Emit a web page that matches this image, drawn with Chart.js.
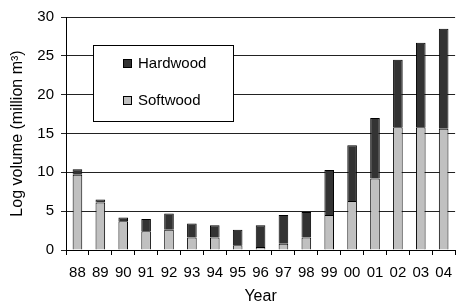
<!DOCTYPE html>
<html>
<head>
  <title>Log volume</title>
  <script src="https://cdn.jsdelivr.net/npm/chart.js"></script>
  <style>
    html, body { margin: 0; padding: 0; background: #fff; }
    #chartBox { width: 461px; height: 304px; position: relative; }
  </style>
</head>
<body>
<div id="chartBox"><canvas id="graphCanvas"></canvas></div>

<script>
// years (2-digit labels on the x axis)
let years = ['88', '89', '90', '91', '92', '93', '94', '95', '96', '97', '98', '99', '00', '01', '02', '03', '04'];

// log volume in million m3
let softwood = [9.7, 6.1, 3.7, 2.4, 2.6, 1.6, 1.6, 0.6, 0.4, 0.8, 1.6, 4.5, 6.3, 9.2, 15.8, 15.8, 15.6];
let hardwood = [0.7, 0.4, 0.5, 1.6, 2.1, 1.8, 1.6, 2.0, 2.8, 3.7, 3.3, 5.8, 7.2, 7.8, 8.7, 10.9, 12.9];

let yTicks = [0, 5, 10, 15, 20, 25, 30];

let font = 'Liberation Sans, Arial, sans-serif';

// legend box sitting inside the plot, Hardwood above Softwood
let boxLegend = {
  id: 'boxLegend',
  afterDraw(chart) {
    let ctx = chart.ctx;
    ctx.save();
    ctx.fillStyle = '#fff';
    ctx.fillRect(94, 45, 139, 76);
    ctx.strokeStyle = '#000';
    ctx.lineWidth = 1;
    ctx.strokeRect(93.5, 45.5, 140, 76);

    let items = [chart.data.datasets[1], chart.data.datasets[0]];
    let rows = [63, 100];
    ctx.font = '15px ' + font;
    ctx.textBaseline = 'middle';
    items.forEach(function(ds, i) {
      ctx.fillStyle = ds.backgroundColor;
      ctx.fillRect(123, rows[i] - 4, 9, 9);
      ctx.strokeStyle = '#000';
      ctx.strokeRect(123.5, rows[i] - 3.5, 8, 8);
      ctx.fillStyle = '#000';
      ctx.fillText(ds.label, 138, rows[i] + 1);
    });
    ctx.restore();
  }
};

let options = {
  type: 'bar',
  data: {
    labels: years,
    datasets: [
      {
        label: 'Softwood',
        data: softwood,
        backgroundColor: '#c0c0c0',
        borderColor: '#000',
        borderWidth: 1,
        categoryPercentage: 1,
        barPercentage: 0.42
      },
      {
        label: 'Hardwood',
        data: hardwood,
        backgroundColor: '#333333',
        borderColor: '#000',
        borderWidth: 1,
        categoryPercentage: 1,
        barPercentage: 0.42
      }
    ]
  },
  options: {
    responsive: true,
    maintainAspectRatio: false,
    animation: false,
    layout: { padding: { top: 17, right: 0, left: 0, bottom: 0 } },
    plugins: {
      legend: { display: false },
      tooltip: { enabled: false }
    },
    scales: {
      x: {
        stacked: true,
        afterFit: function(scale) { scale.height = 54; },
        grid: {
          offset: true,
          drawOnChartArea: false,
          drawTicks: true,
          tickLength: 5,
          color: '#000'
        },
        border: { color: '#000' },
        ticks: {
          color: '#000',
          font: { family: font, size: 15 },
          padding: 9,
          maxRotation: 0
        },
        title: {
          display: true,
          text: 'Year',
          color: '#000',
          font: { family: font, size: 16, lineHeight: 1 },
          padding: { top: 0, bottom: -1 }
        }
      },
      y: {
        stacked: true,
        min: 0,
        max: 30,
        afterFit: function(scale) { scale.width = 66; },
        afterBuildTicks: function(scale) {
          scale.ticks = yTicks.map(function(v) { return { value: v }; });
        },
        grid: {
          color: '#222',
          tickLength: 5
        },
        border: { color: '#000' },
        ticks: {
          color: '#000',
          font: { family: font, size: 15 },
          padding: 7
        },
        title: {
          display: true,
          text: 'Log volume (million m\u00b3)',
          color: '#000',
          font: { family: font, size: 16, lineHeight: 1 },
          padding: { top: 10, bottom: 0 }
        }
      }
    }
  },
  plugins: [boxLegend]
};

let chart = new Chart(document.getElementById('graphCanvas'), options);
</script>
</body>
</html>
